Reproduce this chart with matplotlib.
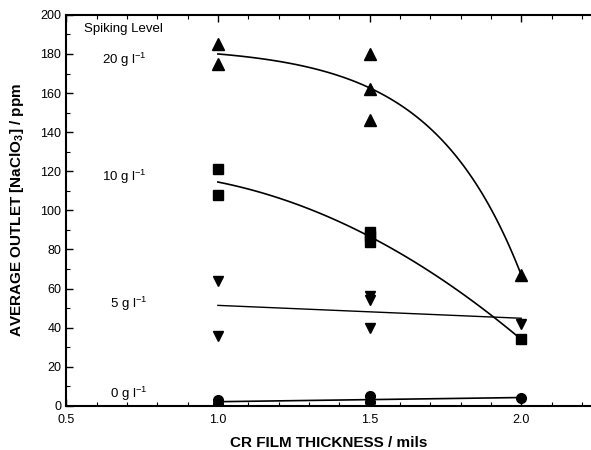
import numpy as np
import matplotlib
matplotlib.use('Agg')
import matplotlib.pyplot as plt
from matplotlib.ticker import MultipleLocator

plt.rcParams['font.family'] = ['Liberation Sans', 'DejaVu Sans']
plt.rcParams['mathtext.default'] = 'regular'

# measured outlet concentrations for each spiking level
x_20 = [1.0, 1.0, 1.5, 1.5, 1.5, 2.0]
y_20 = [185, 175, 180, 162, 146, 67]
x_10 = [1.0, 1.0, 1.5, 1.5, 1.5, 2.0]
y_10 = [121, 108, 89, 87, 84, 34]
x_5 = [1.0, 1.0, 1.5, 1.5, 1.5, 2.0]
y_5 = [64, 36, 56, 54, 40, 42]
x_0 = [1.0, 1.0, 1.5, 1.5, 2.0]
y_0 = [3, 1, 5, 2, 4]

levels = ['20 g l$^{-1}$', '10 g l$^{-1}$', '5 g l$^{-1}$', '0 g l$^{-1}$']
label_y = [177, 117, 52, 6]


def group_means(x, y):
    x = np.asarray(x)
    y = np.asarray(y, dtype=float)
    ux = np.unique(x)
    return ux, np.array([y[x == v].mean() for v in ux])


def exp_fit(x, y):
    # y = a - b*exp(k*(x - x0)) through the three group means
    ux, m = group_means(x, y)
    h = ux[1] - ux[0]
    u = (m[0] - m[2]) / (m[0] - m[1]) - 1
    b = (m[0] - m[1]) / (u - 1)
    a = m[0] + b
    k = np.log(u) / h
    return lambda t: a - b * np.exp(k * (t - ux[0]))


fig = plt.figure(figsize=(5.91, 4.5), dpi=100)
ax = fig.add_axes([0.112, 0.098, 0.888, 0.869])

xs = np.linspace(1.0, 2.0, 100)

ax.plot(x_20, y_20, linestyle='none', marker='^', color='black', markersize=8.5)
ax.plot(xs, exp_fit(x_20, y_20)(xs), color='black', lw=1.2)

ax.plot(x_10, y_10, linestyle='none', marker='s', color='black', markersize=6.5)
ax.plot(xs, np.polyval(np.polyfit(x_10, y_10, 2), xs), color='black', lw=1.2)

ax.plot(x_5, y_5, linestyle='none', marker='v', color='black', markersize=7)
ax.plot(xs, np.polyval(np.polyfit(x_5, y_5, 1), xs), color='black', lw=1.0)

ax.plot(x_0, y_0, linestyle='none', marker='o', color='black', markersize=7)
ax.plot(xs, np.polyval(np.polyfit(x_0, y_0, 1), xs), color='black', lw=1.2)

ax.text(0.56, 193, 'Spiking Level', fontsize=9.5, va='center')
for lab, ly in zip(levels, label_y):
    ax.text(0.767, ly, lab, fontsize=9.5, va='center', ha='right')

ax.set_xlim(0.5, 2.23)
ax.set_ylim(0, 200)
ax.xaxis.set_major_locator(MultipleLocator(0.5))
ax.xaxis.set_minor_locator(MultipleLocator(0.1))
ax.yaxis.set_major_locator(MultipleLocator(20))
ax.yaxis.set_minor_locator(MultipleLocator(10))
ax.tick_params(which='both', direction='in', top=True, right=False, labelsize=9)
ax.tick_params(which='major', length=5, width=1)
ax.tick_params(which='minor', length=3, width=0.8)
ax.tick_params(axis='x', pad=6)
ax.xaxis.set_major_formatter(plt.FuncFormatter(lambda v, _: f'{v:.1f}'))
ax.spines['right'].set_visible(False)
for s in ['left', 'bottom', 'top']:
    ax.spines[s].set_linewidth(1.5)

ax.set_xlabel('CR FILM THICKNESS / mils', fontsize=11, fontweight='bold', labelpad=7)
ax.set_ylabel('AVERAGE OUTLET [NaClO$_3$] / ppm', fontsize=11, fontweight='bold', labelpad=10)

fig.savefig('out.png', dpi=100)
